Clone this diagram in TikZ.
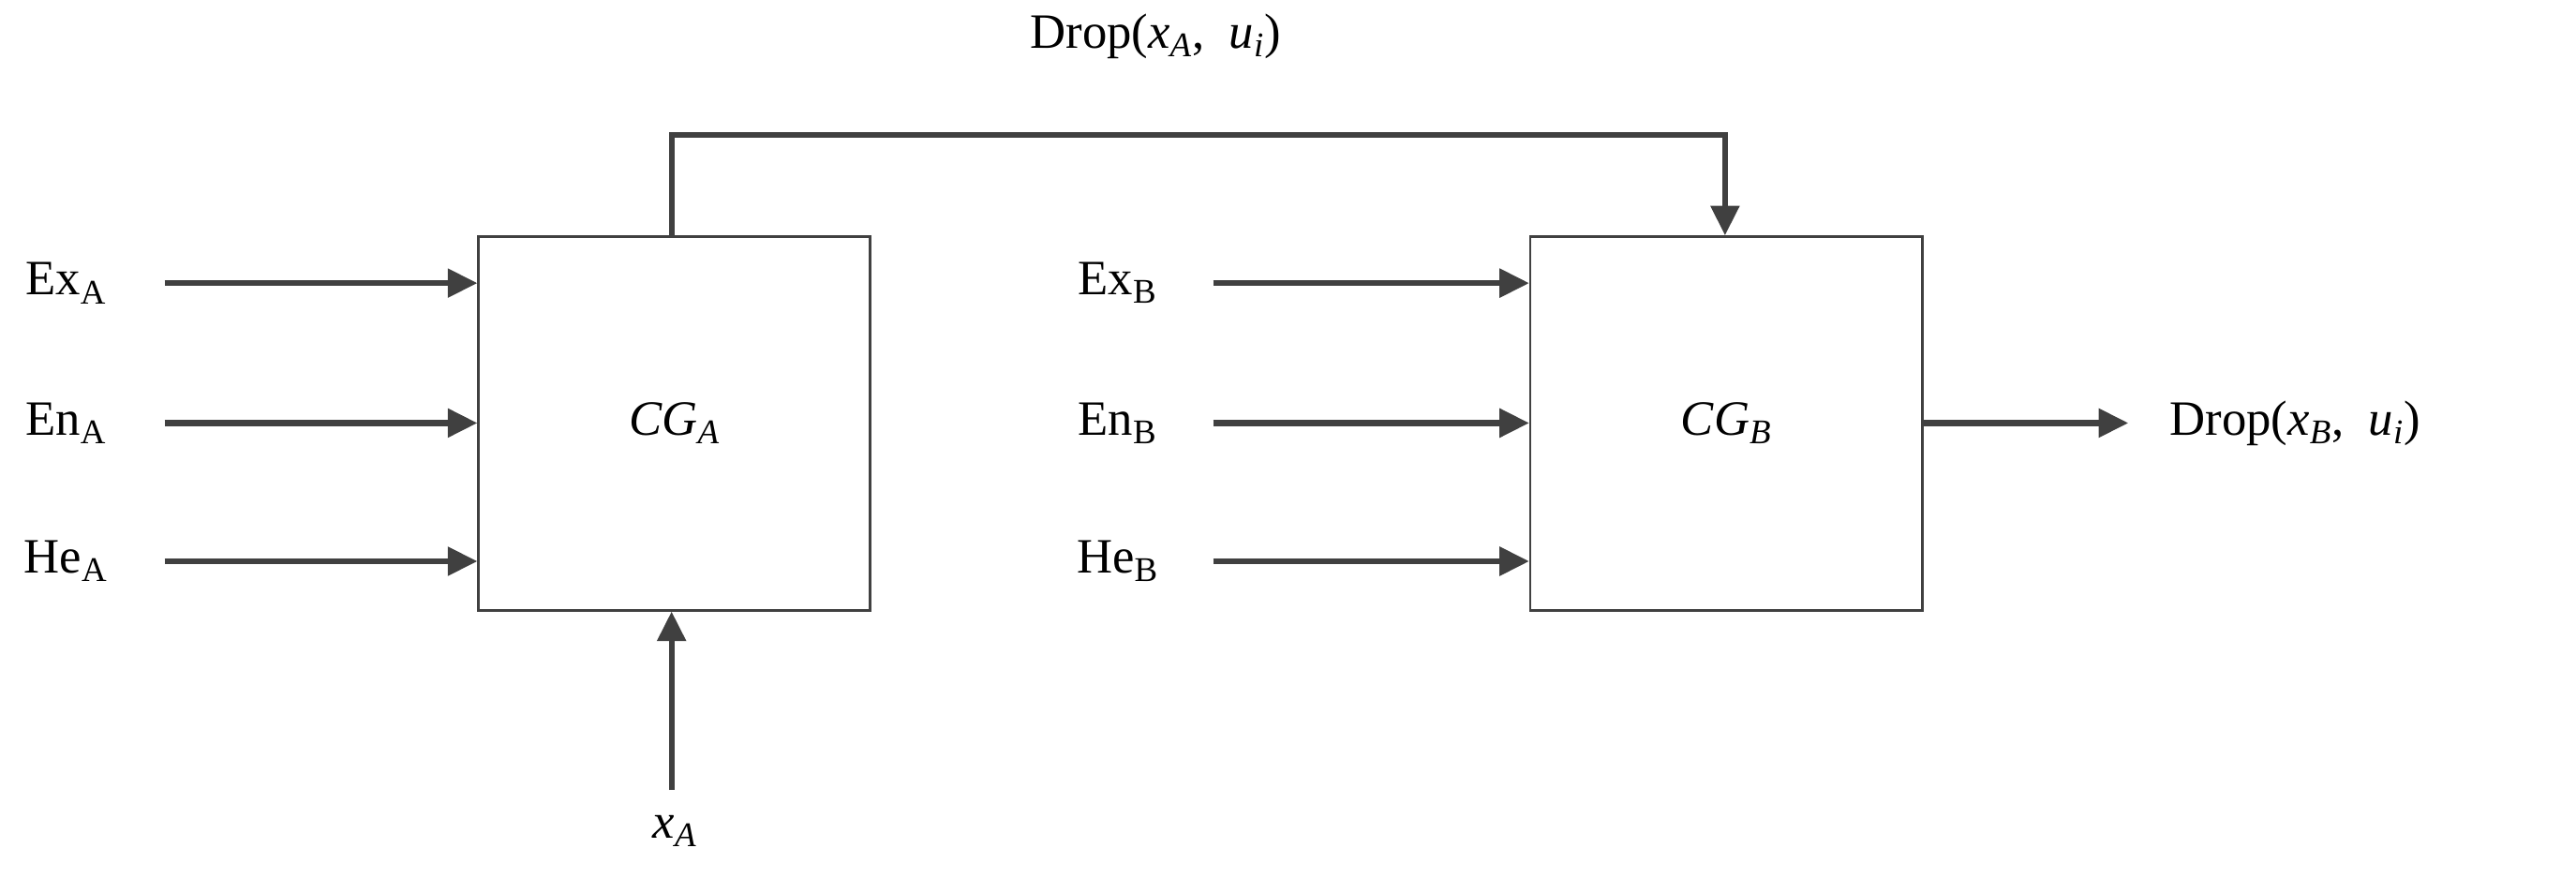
\documentclass[tikz,border=0pt]{standalone}
\usepackage{fontspec}
\setmainfont{Liberation Serif}
\usetikzlibrary{arrows.meta}
\definecolor{ln}{HTML}{404040}
\tikzset{
  box/.style={draw=ln,line width=1.5pt},
  conn/.style={draw=ln,line width=3.5pt,-{Triangle[length=18pt,width=17pt]}},
  lab/.style={font=\fontsize{30}{36}\selectfont,inner sep=0pt}
}
\begin{document}
\begin{tikzpicture}[x=1pt,y=-1pt]
\useasboundingbox (0,0) rectangle (1565,533);
\node[box,minimum width=238pt,minimum height=227pt,anchor=north west,inner sep=0pt,lab] (A) at (290,143) {\textit{CG}\textsubscript{\textit{A}}};
\node[box,minimum width=238pt,minimum height=227pt,anchor=north west,inner sep=0pt,lab] (B) at (929,143) {\textit{CG}\textsubscript{\textit{B}}};
% left labels A
\node[lab] (exa) at (40,172) {Ex\textsubscript{A}};
\node[lab] (ena) at (40,257) {En\textsubscript{A}};
\node[lab] (hea) at (40,341) {He\textsubscript{A}};
\node[lab] (exb) at (679,172) {Ex\textsubscript{B}};
\node[lab] (enb) at (679,257) {En\textsubscript{B}};
\node[lab] (heb) at (679,341) {He\textsubscript{B}};
\coordinate (sa1) at (100,172); \coordinate (sa2) at (100,257); \coordinate (sa3) at (100,341);
\coordinate (sb1) at (737,172); \coordinate (sb2) at (737,257); \coordinate (sb3) at (737,341);
\draw[conn] (sa1) -- (sa1 -| A.west);
\draw[conn] (sa2) -- (sa2 -| A.west);
\draw[conn] (sa3) -- (sa3 -| A.west);
\draw[conn] (sb1) -- (sb1 -| B.west);
\draw[conn] (sb2) -- (sb2 -| B.west);
\draw[conn] (sb3) -- (sb3 -| B.west);
% bottom input
\coordinate (xs) at (408,480);
\node[lab] (xa) at (410,505) {\textit{x}\textsubscript{\textit{A}}};
\draw[conn] (xs) -- (xs |- A.south);
% top connector
\coordinate (ta) at (408,143);
\coordinate (tb) at (1048,143);
\draw[conn] (ta) -- (408,82) -- (1048,82) -- (tb);
\node[lab] (dropa) at (702,22) {Drop(\textit{x}\textsubscript{\textit{A}},\ \ \textit{u}\textsubscript{\textit{i}})};
% output
\coordinate (oe) at (1293,257);
\draw[conn] (B.east |- oe) -- (oe);
\node[lab,anchor=west] (dropb) at (1318,257) {Drop(\textit{x}\textsubscript{\textit{B}},\ \ \textit{u}\textsubscript{\textit{i}})};
\end{tikzpicture}
\end{document}
